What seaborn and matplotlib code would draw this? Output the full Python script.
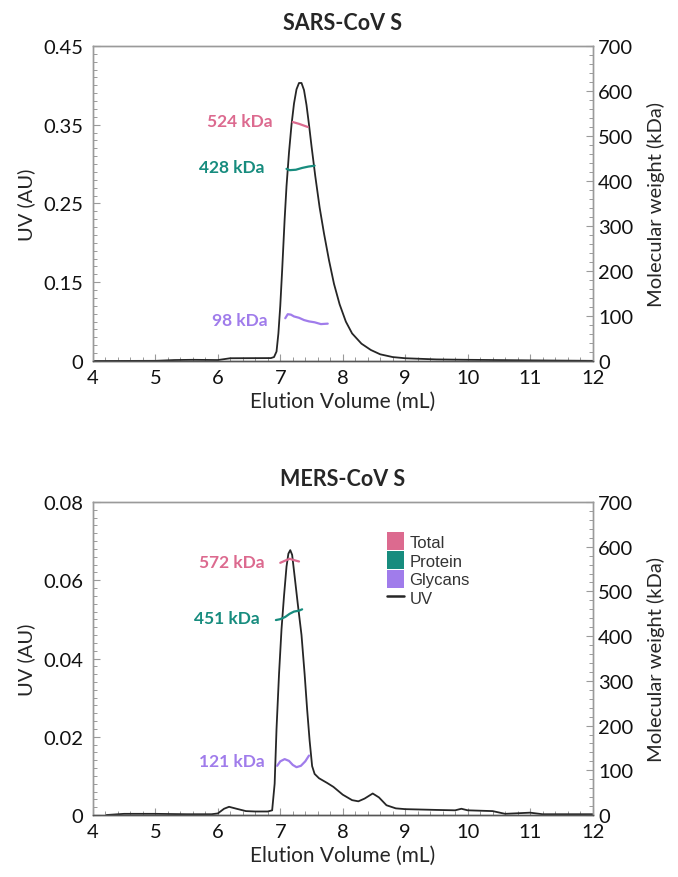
import numpy as np
import pandas as pd
import matplotlib
matplotlib.use("Agg")
import matplotlib.pyplot as plt
from matplotlib.patches import Patch
from matplotlib.lines import Line2D
from matplotlib.ticker import MultipleLocator, FixedLocator
import seaborn as sns

# ---- SARS-CoV S ----
sars_vol = [4.0, 5.0, 5.3, 5.6, 6.0, 6.2, 6.5, 6.85, 6.9, 6.94, 6.97, 7.0, 7.03,
            7.07, 7.1, 7.14, 7.18, 7.22, 7.26, 7.3, 7.34, 7.38, 7.42, 7.46, 7.5,
            7.56, 7.63, 7.7, 7.78, 7.86, 7.95, 8.05, 8.15, 8.3, 8.45, 8.6, 8.8,
            9.0, 9.5, 10.0, 11.0, 12.0]
sars_uv = [0.050, 0.0502, 0.0512, 0.0515, 0.0512, 0.0535, 0.0536, 0.0537, 0.055,
           0.062, 0.085, 0.120, 0.165, 0.230, 0.272, 0.315, 0.350, 0.377, 0.395,
           0.403, 0.403, 0.394, 0.375, 0.350, 0.323, 0.285, 0.245, 0.212, 0.178,
           0.148, 0.122, 0.100, 0.085, 0.072, 0.064, 0.0585, 0.055, 0.0535, 0.052,
           0.0515, 0.0508, 0.0502]
sars_total_vol = [7.2, 7.3, 7.44]
sars_total_mw = [531, 527, 520]
sars_protein_vol = [7.1, 7.15, 7.25, 7.35, 7.45, 7.55]
sars_protein_mw = [427, 424, 425, 429, 432, 434]
sars_glycan_vol = [7.08, 7.12, 7.17, 7.22, 7.3, 7.38, 7.46, 7.55, 7.65, 7.76]
sars_glycan_mw = [95, 104, 103, 99, 96, 91, 88, 86, 82, 83]
sars_yticks = [0.05, 0.15, 0.25, 0.35, 0.45]
sars_yticklabels = ["0", "0.15", "0.25", "0.35", "0.45"]
sars_labels = ["524 kDa", "428 kDa", "98 kDa"]

# ---- MERS-CoV S ----
mers_vol = [4.22, 4.5, 5.0, 5.5, 5.9, 6.0, 6.1, 6.18, 6.3, 6.45, 6.6, 6.8, 6.87,
            6.91, 6.94, 6.98, 7.02, 7.06, 7.1, 7.13, 7.16, 7.19, 7.23, 7.28, 7.34,
            7.39, 7.43, 7.47, 7.51, 7.55, 7.62, 7.75, 7.85, 8.0, 8.15, 8.25, 8.35,
            8.48, 8.58, 8.7, 8.85, 9.0, 9.5, 9.8, 9.9, 10.0, 10.4, 10.6, 11.0,
            11.2, 12.0]
mers_uv = [0.0000, 0.0003, 0.0003, 0.0002, 0.0002, 0.0004, 0.0016, 0.0021, 0.0016,
           0.0010, 0.0009, 0.0009, 0.0012, 0.008, 0.022, 0.036, 0.0475, 0.056,
           0.0635, 0.0668, 0.0677, 0.0665, 0.0610, 0.054, 0.046, 0.036, 0.027,
           0.019, 0.0125, 0.0105, 0.0094, 0.0082, 0.0072, 0.0052, 0.0038, 0.0035,
           0.0042, 0.0055, 0.0045, 0.0025, 0.0017, 0.0015, 0.0013, 0.0012, 0.0016,
           0.0012, 0.0010, 0.0003, 0.0006, 0.0002, 0.0002]
mers_total_vol = [7.0, 7.08, 7.15, 7.22, 7.3]
mers_total_mw = [564, 569, 573, 570, 567]
mers_protein_vol = [6.93, 7.0, 7.08, 7.15, 7.22, 7.3, 7.35]
mers_protein_mw = [436, 438, 443, 450, 455, 457, 460]
mers_glycan_vol = [6.95, 7.0, 7.07, 7.14, 7.2, 7.26, 7.33, 7.4, 7.46]
mers_glycan_mw = [110, 120, 125, 121, 112, 107, 110, 120, 133]
mers_yticks = [0, 0.02, 0.04, 0.06, 0.08]
mers_yticklabels = ["0", "0.02", "0.04", "0.06", "0.08"]
mers_labels = ["572 kDa", "451 kDa", "121 kDa"]

legend_names = ["Total", "Protein", "Glycans", "UV"]

PINK = "#dc6a8f"
TEAL = "#178c7e"
PURPLE = "#a07ceb"
UV_COLOR = "#262626"
SPINE = "#9a9a9a"

sns.set_theme(style="ticks")
plt.rcParams["font.family"] = ["Lato", "DejaVu Sans"]


def style_axes(ax, ax2, ylim, yticks, yticklabels, yminor):
    ax.set_xlim(4, 12)
    ax.set_ylim(*ylim)
    ax.xaxis.set_major_locator(MultipleLocator(1))
    ax.xaxis.set_minor_locator(MultipleLocator(0.2))
    ax.yaxis.set_major_locator(FixedLocator(yticks))
    ax.set_yticklabels(yticklabels)
    ax.yaxis.set_minor_locator(MultipleLocator(yminor))
    ax.tick_params(axis="both", which="both", direction="in", colors=SPINE,
                   labelcolor="#111111", labelsize=14.5)
    ax.tick_params(axis="both", which="major", length=5, width=0.8)
    ax.tick_params(axis="both", which="minor", length=3, width=0.7)
    ax.tick_params(axis="x", pad=6)
    ax.tick_params(axis="y", pad=7)
    ax.set_xlabel("Elution Volume (mL)", fontsize=15, labelpad=3)
    ax.set_ylabel("UV (AU)", fontsize=14.5, labelpad=6)

    ax2.set_ylim(0, 700)
    ax2.yaxis.set_major_locator(MultipleLocator(100))
    ax2.yaxis.set_minor_locator(MultipleLocator(20))
    ax2.tick_params(axis="y", which="both", direction="in", colors=SPINE,
                    labelcolor="#111111", labelsize=14.5, pad=4)
    ax2.tick_params(axis="y", which="major", length=5, width=0.8)
    ax2.tick_params(axis="y", which="minor", length=3, width=0.7)
    ax2.set_ylabel("Molecular weight (kDa)", fontsize=14.5, labelpad=10)

    for a in (ax, ax2):
        for side in ("left", "top", "right"):
            a.spines[side].set_visible(True)
            a.spines[side].set_color(SPINE)
            a.spines[side].set_linewidth(1.0)
        a.spines["bottom"].set_color("#555555")
        a.spines["bottom"].set_linewidth(1.0)


def draw_panel(rect, title, vol, uv, mw_series, labels, label_pos, ylim,
               yticks, yticklabels, yminor, legend=False):
    ax = fig.add_axes(rect)
    ax2 = ax.twinx()
    sns.lineplot(x=vol, y=uv, ax=ax, color=UV_COLOR, linewidth=1.3)
    for (v, m), c in zip(mw_series, (PINK, TEAL, PURPLE)):
        sns.lineplot(x=v, y=m, ax=ax2, color=c, linewidth=1.6)
    for text, (lx, ly), c in zip(labels, label_pos, (PINK, TEAL, PURPLE)):
        ax2.text(lx, ly, text, color=c, fontsize=12.5, fontweight="bold",
                 ha="right", va="center")
    style_axes(ax, ax2, ylim, yticks, yticklabels, yminor)
    ax.set_title(title, fontsize=15.5, fontweight="bold", pad=12)
    if legend:
        handles = [Patch(facecolor=PINK, edgecolor="none"),
                   Patch(facecolor=TEAL, edgecolor="none"),
                   Patch(facecolor=PURPLE, edgecolor="none"),
                   Line2D([0], [0], color=UV_COLOR, linewidth=1.8)]
        leg = ax2.legend(handles, legend_names, loc="upper left",
                         bbox_to_anchor=(0.575, 0.925), frameon=False,
                         handlelength=1.0, handleheight=1.25, handletextpad=0.35,
                         labelspacing=0.08, borderaxespad=0,
                         prop={"family": "Liberation Sans", "size": 12})
        for t in leg.get_texts():
            t.set_color("#333333")
    return ax, ax2


fig = plt.figure(figsize=(6.78, 8.78), dpi=100)

draw_panel([0.137, 0.5877, 0.737, 0.3588], "SARS-CoV S", sars_vol, sars_uv,
           [(sars_total_vol, sars_total_mw), (sars_protein_vol, sars_protein_mw),
            (sars_glycan_vol, sars_glycan_mw)],
           sars_labels, [(6.88, 533), (6.75, 431), (6.8, 92)],
           (0.05, 0.45), sars_yticks, sars_yticklabels, 0.01)

draw_panel([0.137, 0.0706, 0.737, 0.3565], "MERS-CoV S", mers_vol, mers_uv,
           [(mers_total_vol, mers_total_mw), (mers_protein_vol, mers_protein_mw),
            (mers_glycan_vol, mers_glycan_mw)],
           mers_labels, [(6.75, 566), (6.67, 440), (6.75, 121)],
           (0, 0.08), mers_yticks, mers_yticklabels, 0.002, legend=True)

fig.savefig("out.png", dpi=100)
